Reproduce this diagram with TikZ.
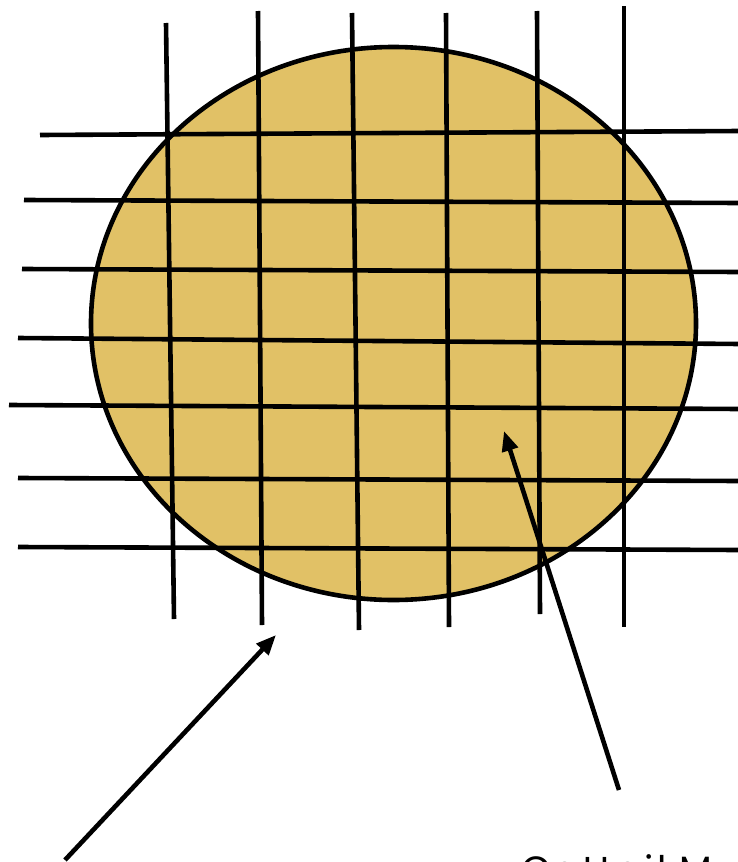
\documentclass[tikz,border=0pt]{standalone}
\usepackage{fontspec}
\setmainfont{Poppins}
\usetikzlibrary{arrows.meta}
\definecolor{cheese}{RGB}{225,193,102}
\begin{document}
\begin{tikzpicture}[x=1pt,y=-1pt,
  gridline/.style={line width=4.6pt,black},
  pointer/.style={line width=4.6pt,black,-{Triangle[length=20pt,width=16pt]}}]
\useasboundingbox (0,0) rectangle (738,862);
\clip (0,0) rectangle (738,862);
% disk
\draw[line width=4.6pt,fill=cheese] (393.5,323.5) ellipse [x radius=302.5, y radius=276.5];
% horizontal lines
\draw[gridline] (40,135) -- (740,131);
\draw[gridline] (24,200) -- (740,203);
\draw[gridline] (22,269) -- (740,272);
\draw[gridline] (18,338) -- (740,344);
\draw[gridline] (9,405) -- (740,409);
\draw[gridline] (18,478) -- (740,481);
\draw[gridline] (18,547) -- (740,550);
% vertical lines
\draw[gridline] (166,23) -- (174,619);
\draw[gridline] (258,11) -- (262,625);
\draw[gridline] (352,13) -- (359,630);
\draw[gridline] (446,13) -- (449,627);
\draw[gridline] (537,11) -- (540,614);
\draw[gridline] (624,6) -- (624,627);
% arrows
\coordinate (a1s) at (65,860);
\coordinate (a1e) at (276,635);
\coordinate (a2s) at (619,790);
\coordinate (a2e) at (504,431);
\draw[pointer] (a1s) -- (a1e);
\draw[pointer] (a2s) -- (a2e);
% label (cut off at the bottom, as in the reference)
\node[anchor=base west,inner sep=0pt,font=\fontsize{38}{44}\selectfont\addfontfeature{LetterSpace=8}] (lbl) at (521,883) {Cattail M};
\end{tikzpicture}
\end{document}
